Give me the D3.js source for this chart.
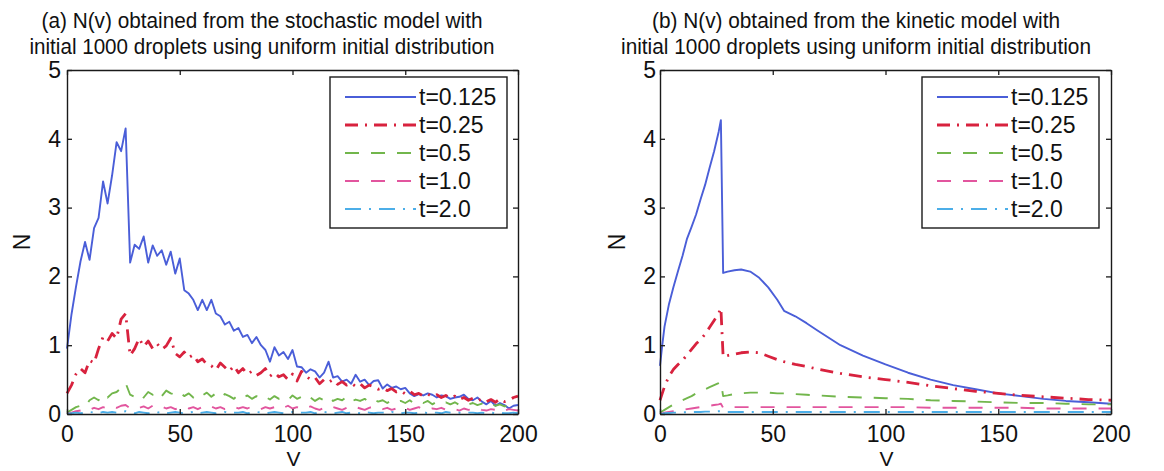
<!DOCTYPE html>
<html>
<head>
<meta charset="utf-8">
<script src="https://cdn.jsdelivr.net/npm/d3@7/dist/d3.min.js"></script>
<style>
  body { margin: 0; background: #fff; }
  svg text { font-family: "Liberation Sans", Arial, Helvetica, sans-serif; fill: #111; }
</style>
</head>
<body>
<div id="chart"></div>
<script>
// ---- data ----
const seriesLabels = ["t=0.125", "t=0.25", "t=0.5", "t=1.0", "t=2.0"];
const xTicks = [0, 50, 100, 150, 200];
const yTicks = [0, 1, 2, 3, 4, 5];

// (a) stochastic model, sampled every 2 units of V
const stochV = d3.range(0, 201, 2);
const stochT0125 = [
  0.95,1.45,1.85,2.22,2.5,2.24,2.7,2.85,3.38,3.06,
  3.47,3.95,3.82,4.15,2.2,2.46,2.4,2.58,2.2,2.45,
  2.3,2.38,2.17,2.36,2.04,2.26,1.8,1.75,1.66,1.51,
  1.66,1.51,1.66,1.46,1.42,1.3,1.34,1.21,1.25,1.12,
  1.15,1.03,1.12,1.0,0.93,0.76,0.97,0.85,0.9,0.8,
  0.93,0.69,0.68,0.6,0.65,0.62,0.53,0.6,0.76,0.53,
  0.55,0.47,0.5,0.44,0.57,0.47,0.5,0.42,0.48,0.49,
  0.37,0.43,0.38,0.4,0.36,0.38,0.3,0.26,0.29,0.27,
  0.3,0.28,0.24,0.27,0.26,0.22,0.24,0.25,0.28,0.22,
  0.2,0.24,0.18,0.14,0.19,0.12,0.16,0.13,0.08,0.12,
  0.13];
const stochT025 = [
  0.3,0.42,0.58,0.66,0.6,0.78,0.74,0.95,1.12,1.06,
  1.17,1.1,1.38,1.46,0.85,0.95,1.1,0.98,1.06,0.95,
  1.02,0.94,0.99,1.1,0.88,0.83,0.9,0.82,0.86,0.76,
  0.8,0.72,0.7,0.64,0.74,0.68,0.62,0.7,0.6,0.66,
  0.58,0.62,0.56,0.6,0.66,0.55,0.6,0.54,0.57,0.5,
  0.58,0.48,0.62,0.55,0.5,0.53,0.44,0.5,0.46,0.5,
  0.43,0.47,0.42,0.45,0.4,0.44,0.38,0.42,0.4,0.36,
  0.38,0.34,0.37,0.32,0.34,0.29,0.33,0.28,0.3,0.26,
  0.29,0.25,0.28,0.24,0.27,0.23,0.26,0.21,0.24,0.2,
  0.23,0.19,0.22,0.18,0.21,0.17,0.22,0.18,0.2,0.24,
  0.26];
const stochT05 = [
  0.02,0.06,0.1,0.12,0.1,0.2,0.24,0.2,0.29,0.24,
  0.3,0.32,0.38,0.45,0.28,0.25,0.3,0.24,0.32,0.28,
  0.33,0.26,0.34,0.3,0.28,0.32,0.26,0.3,0.24,0.3,
  0.27,0.31,0.25,0.3,0.24,0.29,0.26,0.22,0.28,0.24,
  0.27,0.22,0.26,0.22,0.25,0.21,0.26,0.22,0.24,0.2,
  0.27,0.22,0.25,0.2,0.24,0.19,0.23,0.2,0.25,0.19,
  0.22,0.2,0.25,0.18,0.21,0.19,0.22,0.17,0.21,0.18,
  0.2,0.16,0.2,0.17,0.19,0.16,0.2,0.15,0.18,0.16,
  0.19,0.14,0.18,0.15,0.17,0.14,0.17,0.13,0.16,0.14,
  0.16,0.13,0.15,0.12,0.15,0.12,0.14,0.11,0.13,0.12,
  0.14];
const stochT1 = [
  0,0.02,0.04,0.05,0.08,0.06,0.09,0.07,0.1,0.08,
  0.11,0.09,0.12,0.13,0.08,0.1,0.09,0.11,0.08,0.12,
  0.09,0.11,0.08,0.1,0.07,0.09,0.11,0.08,0.1,0.07,
  0.1,0.08,0.11,0.08,0.1,0.07,0.09,0.11,0.08,0.1,
  0.08,0.11,0.09,0.07,0.1,0.08,0.1,0.07,0.09,0.12,
  0.08,0.1,0.07,0.09,0.11,0.08,0.06,0.09,0.07,0.1,
  0.08,0.06,0.09,0.07,0.1,0.08,0.06,0.09,0.11,0.08,
  0.07,0.09,0.06,0.08,0.07,0.09,0.06,0.08,0.1,0.07,
  0.06,0.08,0.07,0.09,0.06,0.08,0.07,0.05,0.08,0.06,
  0.07,0.09,0.06,0.05,0.07,0.06,0.08,0.05,0.07,0.06,
  0.05];
const stochT2 = [
  0,0.01,0.02,0.01,0.02,0.03,0.02,0.01,0.03,0.02,
  0.03,0.02,0.03,0.04,0.02,0.01,0.03,0.02,0.01,0.03,
  0.02,0.03,0.01,0.02,0.03,0.02,0.01,0.02,0.03,0.01,
  0.02,0.03,0.02,0.01,0.02,0.03,0.01,0.02,0.02,0.03,
  0.01,0.02,0.03,0.02,0.01,0.02,0.03,0.02,0.01,0.02,
  0.03,0.01,0.02,0.02,0.03,0.01,0.02,0.03,0.02,0.01,
  0.02,0.03,0.01,0.02,0.02,0.01,0.03,0.02,0.01,0.02,
  0.02,0.01,0.03,0.02,0.01,0.02,0.02,0.01,0.02,0.03,
  0.01,0.02,0.02,0.01,0.03,0.02,0.01,0.02,0.01,0.02,
  0.02,0.01,0.02,0.01,0.02,0.01,0.02,0.01,0.01,0.02,
  0.01];

// (b) kinetic model, smooth curves
const kinV = [0,1,2,4,6,8,10,12,14,16,18,20,22,24,26,27,28,30,33,36,40,44,48,52,55,60,65,70,80,90,100,110,120,130,140,150,160,170,180,190,200];
const kinT0125 = [0.7,1.0,1.27,1.6,1.85,2.08,2.3,2.55,2.72,2.9,3.12,3.33,3.58,3.82,4.1,4.27,
  2.05,2.07,2.09,2.1,2.07,1.98,1.84,1.66,1.5,1.42,1.32,1.21,1.0,0.85,0.72,0.6,0.5,0.42,0.36,0.3,0.26,0.22,0.19,0.17,0.15];
const kinT025 = [0.2,0.3,0.4,0.55,0.65,0.72,0.78,0.86,0.94,1.02,1.08,1.16,1.26,1.36,1.46,1.54,
  0.83,0.85,0.87,0.89,0.9,0.89,0.84,0.79,0.76,0.72,0.69,0.65,0.59,0.54,0.5,0.46,0.41,0.37,0.33,0.3,0.27,0.25,0.23,0.21,0.2];
const kinT05 = [0.02,0.04,0.06,0.1,0.14,0.17,0.2,0.23,0.26,0.3,0.33,0.36,0.39,0.42,0.45,0.47,
  0.26,0.27,0.29,0.3,0.31,0.31,0.31,0.3,0.3,0.29,0.28,0.27,0.25,0.24,0.23,0.22,0.2,0.19,0.18,0.17,0.16,0.16,0.15,0.14,0.14];
const kinT1 = [0,0.01,0.02,0.03,0.04,0.05,0.06,0.07,0.08,0.09,0.1,0.11,0.12,0.13,0.14,0.15,
  0.09,0.09,0.1,0.1,0.1,0.1,0.1,0.1,0.1,0.1,0.1,0.1,0.1,0.1,0.1,0.1,0.09,0.09,0.09,0.09,0.09,0.08,0.08,0.08,0.08];
const kinT2 = [0,0.005,0.01,0.015,0.02,0.02,0.025,0.025,0.03,0.03,0.03,0.035,0.035,0.035,0.04,0.04,
  0.03,0.03,0.03,0.03,0.03,0.03,0.03,0.03,0.03,0.03,0.03,0.03,0.03,0.03,0.03,0.03,0.03,0.03,0.03,0.03,0.03,0.03,0.03,0.03,0.03];

// ---- styles ----
const styles = [
  { color: "#4a5ed8", width: 1.9, dash: null },
  { color: "#d8223e", width: 2.8, dash: "13,7,2,7" },
  { color: "#72b64c", width: 1.9, dash: "14,12" },
  { color: "#e2559e", width: 1.9, dash: "14,12" },
  { color: "#4caee8", width: 1.9, dash: "16,8,2,8" }
];

const W = 1164, H = 471;
const svg = d3.select("#chart").append("svg").attr("width", W).attr("height", H);

function drawPanel(opt) {
  const x = d3.scaleLinear().domain([0, 200]).range([opt.left, opt.right]);
  const y = d3.scaleLinear().domain([0, 5]).range([414, 70]);
  const g = svg.append("g");

  // title, two lines, squeezed to the widths in the scan
  opt.title.forEach((t, i) => {
    g.append("text").attr("x", opt.titleX).attr("y", 28 + i * 26)
      .attr("text-anchor", "middle").attr("font-size", "22px")
      .attr("textLength", opt.titleW[i]).attr("lengthAdjust", "spacingAndGlyphs")
      .text(t);
  });

  // series
  const line = d3.line().x(d => x(d[0])).y(d => y(d[1]));
  opt.series.forEach((vals, i) => {
    const pts = opt.v.map((v, j) => [v, vals[j]]);
    g.append("path").attr("d", line(pts)).attr("fill", "none")
      .attr("stroke", styles[i].color).attr("stroke-width", styles[i].width)
      .attr("stroke-dasharray", styles[i].dash)
      .attr("stroke-linejoin", "round");
  });

  // axes (ticks inside on all four sides)
  const axStyle = sel => {
    sel.selectAll(".domain").attr("stroke", "#1a1a1a").attr("stroke-width", 1.4);
    sel.selectAll(".tick line").attr("stroke", "#1a1a1a").attr("stroke-width", 1.3);
    sel.selectAll(".tick text").attr("font-size", "23px").attr("fill", "#111")
      .attr("font-family", "Liberation Sans, Arial, sans-serif");
  };
  g.append("g").attr("transform", "translate(0,414)")
    .call(d3.axisBottom(x).tickValues(xTicks).tickSize(-5).tickSizeOuter(0).tickPadding(12))
    .call(axStyle);
  g.append("g").attr("transform", "translate(0,70)")
    .call(d3.axisTop(x).tickValues(xTicks).tickSize(-5).tickSizeOuter(0).tickFormat(""))
    .call(axStyle);
  g.append("g").attr("transform", `translate(${opt.left},0)`)
    .call(d3.axisLeft(y).tickValues(yTicks).tickFormat(d3.format("d"))
      .tickSize(-5).tickSizeOuter(0).tickPadding(opt.yPad))
    .call(axStyle);
  g.append("g").attr("transform", `translate(${opt.right},0)`)
    .call(d3.axisRight(y).tickValues(yTicks).tickSize(-5).tickSizeOuter(0).tickFormat(""))
    .call(axStyle);

  // axis labels
  g.append("text").attr("x", (opt.left + opt.right) / 2 + 1).attr("y", 466)
    .attr("text-anchor", "middle").attr("font-size", "21px").text("V");
  g.append("text").attr("transform", `translate(${opt.nX},242) rotate(-90)`)
    .attr("text-anchor", "middle").attr("font-size", "23px").text("N");

  // legend
  const lx = opt.right - opt.legOff, ly = 77;
  const lg = g.append("g").attr("transform", `translate(${lx},${ly})`);
  lg.append("rect").attr("width", 177).attr("height", 151)
    .attr("fill", "#fff").attr("stroke", "#1a1a1a").attr("stroke-width", 1.4);
  seriesLabels.forEach((lab, i) => {
    const yy = 20 + i * 28;
    lg.append("line").attr("x1", 15).attr("x2", 86).attr("y1", yy).attr("y2", yy)
      .attr("stroke", styles[i].color).attr("stroke-width", styles[i].width)
      .attr("stroke-dasharray", styles[i].dash);
    lg.append("text").attr("x", 89).attr("y", yy).attr("dy", "0.36em")
      .attr("font-size", "23px").text(lab);
  });
}

drawPanel({
  left: 67, right: 518, yPad: 6, nX: 30, titleX: 262, legOff: 188,
  titleW: [441, 465],
  title: ["(a) N(v) obtained from the stochastic model with",
          "initial 1000 droplets using uniform initial distribution"],
  v: stochV, series: [stochT0125, stochT025, stochT05, stochT1, stochT2]
});
drawPanel({
  left: 660, right: 1111, yPad: 4, nX: 625, titleX: 856, legOff: 189,
  titleW: [408, 470],
  title: ["(b) N(v) obtained from the kinetic model with",
          "initial 1000 droplets using uniform initial distribution"],
  v: kinV, series: [kinT0125, kinT025, kinT05, kinT1, kinT2]
});
</script>
</body>
</html>
